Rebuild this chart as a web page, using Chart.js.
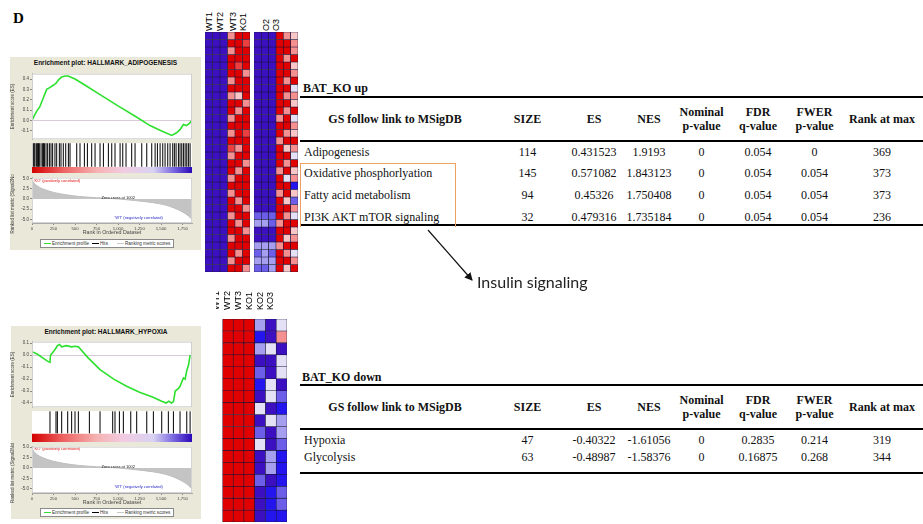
<!DOCTYPE html>
<html>
<head>
<meta charset="utf-8">
<title>GSEA BAT_KO</title>
<script src="https://cdn.jsdelivr.net/npm/chart.js@4.4.1/dist/chart.umd.min.js"></script>
<style>
  body { margin:0; width:923px; height:524px; background:#fff; position:relative; overflow:hidden; font-family:"Liberation Sans", Arial, sans-serif; }
  canvas { position:absolute; }
  .panel { position:absolute; background:#eae8d8; }
  .ptitle { position:absolute; text-align:center; font-weight:bold; font-size:6.5px; line-height:8px; color:#111; }
  .glegend { position:absolute; width:132px; height:7px; border:1px solid #8a8a8a; background:#fff; font-size:4.6px; line-height:7px; color:#333; white-space:nowrap; }
  .glegend i { display:inline-block; width:7px; height:0; vertical-align:middle; margin:0 1px 0 3px; }
  .fig-label { position:absolute; left:13px; top:10px; font:bold 15px "Liberation Serif", serif; }
  .hlabel { position:absolute; top:14px; height:17px; writing-mode:vertical-rl; transform:rotate(180deg); font-size:9px; line-height:10px; color:#000; }
  .ttitle { position:absolute; font:bold 12px "Liberation Serif", serif; color:#111; }
  table.gs { position:absolute; left:300px; width:623px; border-collapse:collapse; table-layout:fixed; font-family:"Liberation Serif","Times New Roman",serif; font-size:12px; color:#111; }
  table.gs th { font-weight:bold; line-height:14px; padding:0; vertical-align:middle; border-top:2px solid #000; border-bottom:2px solid #000; }
  table.gs td { text-align:center; vertical-align:top; padding:3px 0 0; line-height:14px; }
  table.gs td:first-child { text-align:left; padding-left:4px; }
  table.gs tr:last-child td { border-bottom:2px solid #000; }
  .insulin { position:absolute; left:477px; top:272px; font:16px Lato, "Open Sans", sans-serif; color:#222; }
</style>
</head>
<body>
<div class="fig-label">D</div>

<!-- GSEA panel: adipogenesis -->
<div class="panel" style="left:10px;top:57px;width:191px;height:193px"></div>
<div class="ptitle" style="left:10px;top:59px;width:191px">Enrichment plot: HALLMARK_ADIPOGENESIS</div>
<canvas id="esTop" width="186" height="73" style="left:10px;top:70px"></canvas>
<canvas id="hitsTop" width="186" height="30" style="left:10px;top:143px"></canvas>
<canvas id="metricTop" width="186" height="62" style="left:10px;top:174px"></canvas>
<div class="glegend" style="left:40px;top:239px"><i style="border-top:1px solid #33dd33"></i>Enrichment profile<i style="border-top:1px solid #000"></i>Hits<i style="border-top:1px solid #c8c8c8;margin-left:9px"></i>Ranking metric scores</div>

<!-- GSEA panel: hypoxia -->
<div class="panel" style="left:11px;top:326px;width:190px;height:193px"></div>
<div class="ptitle" style="left:11px;top:328px;width:190px">Enrichment plot: HALLMARK_HYPOXIA</div>
<canvas id="esBot" width="186" height="73" style="left:10px;top:338px"></canvas>
<canvas id="hitsBot" width="186" height="31" style="left:10px;top:411px"></canvas>
<canvas id="metricBot" width="186" height="63" style="left:10px;top:443px"></canvas>
<div class="glegend" style="left:40px;top:508px"><i style="border-top:1px solid #33dd33"></i>Enrichment profile<i style="border-top:1px solid #000"></i>Hits<i style="border-top:1px solid #c8c8c8;margin-left:9px"></i>Ranking metric scores</div>

<!-- heatmaps -->
<div id="topHeatLabels"></div>
<canvas id="heatA" width="45" height="240" style="left:205px;top:32px"></canvas>
<canvas id="heatB" width="44" height="240" style="left:254px;top:32px"></canvas>
<canvas id="heatBot" width="71" height="236" style="left:216px;top:286px"></canvas>

<!-- tables -->
<div class="ttitle" style="left:303px;top:81px">BAT_KO up</div>
<table class="gs" id="tblUp" style="top:96px"></table>
<div class="ttitle" style="left:302px;top:370px">BAT_KO down</div>
<table class="gs" id="tblDown" style="top:384px"></table>

<div style="position:absolute;left:300px;top:163px;width:154px;height:63px;border:1px solid #eea060;border-bottom:none"></div>
<svg width="923" height="524" style="position:absolute;left:0;top:0">
  <defs><marker id="ah" markerWidth="8" markerHeight="8" refX="7" refY="4" orient="auto" markerUnits="userSpaceOnUse">
    <path d="M0,0 L8,4 L0,8 z" fill="#111"/></marker></defs>
  <line x1="428" y1="230" x2="472" y2="280" stroke="#111" stroke-width="1.2" marker-end="url(#ah)"/>
</svg>
<div class="insulin">Insulin signaling</div>

<script>
// ---- ranked list (shared by both panels) ----
const rankMax = 1860;
const metricRanks = [0, 20, 60, 120, 250, 400, 550, 750, 1002, 1200, 1400, 1550, 1650, 1750, 1820, 1857];
const metricValues = [4.8, 4.0, 3.2, 2.5, 1.6, 1.0, 0.6, 0.3, 0, -0.4, -0.9, -1.5, -2.2, -3.2, -4.2, -5.0];

// colour bar under the hits
const barStops = [0, 364, 752, 1063, 1411, 1644, 1860];
const barColors = ['#d40000', '#ee6262', '#f6b2b2', '#f2cce2', '#d8d2f2', '#7a68e0', '#2a08b8'];

// HALLMARK_ADIPOGENESIS
const adipoRanks = [0, 30, 55, 90, 132, 171, 210, 248, 280, 306, 345, 384, 420, 500, 600, 791, 1000, 1200, 1372, 1500, 1625, 1680, 1720, 1760, 1795, 1830, 1857];
const adipoES = [0, 0.05, 0.09, 0.13, 0.22, 0.30, 0.32, 0.34, 0.36, 0.39, 0.42, 0.43, 0.43, 0.40, 0.35, 0.25, 0.14, 0.04, -0.05, -0.10, -0.145, -0.12, -0.09, -0.04, -0.05, -0.03, 0.0];
const adipoHits = [15, 25, 35, 54, 66, 75, 85, 105, 124, 135, 144, 163, 182, 202, 221, 240, 267, 287, 318, 337, 364, 392, 423, 442,
  520, 558, 609, 644, 694, 733, 791, 830, 888, 927, 965, 1024, 1055, 1093, 1159, 1198, 1276, 1334, 1392, 1431, 1458,
  1489, 1520, 1547, 1578, 1605, 1636, 1655, 1675, 1702, 1721, 1741, 1760, 1780, 1799, 1818, 1838];

// HALLMARK_HYPOXIA
const hypoxRanks = [0, 60, 120, 180, 209, 215, 250, 279, 295, 320, 345, 400, 461, 500, 539, 650, 791, 950, 1100, 1250, 1400, 1508, 1560, 1590, 1620, 1644, 1665, 1700, 1721, 1760, 1780, 1799, 1820, 1838];
const hypoxES = [0.03, 0.01, -0.02, -0.05, -0.06, 0.0, 0.03, 0.06, 0.08, 0.09, 0.07, 0.08, 0.07, 0.075, 0.07, -0.02, -0.12, -0.20, -0.26, -0.31, -0.35, -0.385, -0.40, -0.385, -0.40, -0.39, -0.30, -0.28, -0.26, -0.19, -0.20, -0.13, -0.08, 0.0];
const hypoxHits = [209, 279, 295, 345, 415, 461, 500, 539, 667, 791, 938, 965, 1016, 1062, 1148, 1217, 1334, 1411, 1508, 1585, 1644, 1721, 1799, 1838];

// heatmaps: colour level per cell (0 dark blue ... 8 red)
const heatPalette = ['#3c0fc0', '#2414ee', '#6c5ee8', '#a69ff0', '#e4e0f6', '#f8c6c6', '#f49090', '#ec4040', '#e00000'];
const topHeatLabels = ['WT1', 'WT2', 'WT3', 'KO1', 'O2', 'O3'];
const topHeatA = [
  [0,0,0,6,8,8],[0,0,0,8,8,7],[0,0,0,6,8,8],[0,0,0,8,8,8],[0,0,0,8,7,8],[0,0,0,8,8,6],[0,0,0,6,8,8],[0,0,0,8,8,8],
  [0,0,0,6,5,8],[0,0,0,8,8,6],[0,0,0,8,6,8],[0,0,0,6,8,8],[0,0,0,8,8,8],[0,0,0,6,8,7],[0,0,0,8,8,8],[0,0,0,7,6,8],
  [0,0,0,6,8,8],[0,0,0,8,8,6],[0,0,0,8,6,8],[0,0,0,6,8,8],[0,0,0,8,8,8],[0,0,0,6,8,8],[0,0,0,8,6,8],[0,0,0,8,8,6],
  [0,0,0,6,8,8],[0,0,0,8,6,8],[0,0,0,8,8,6],[0,0,0,6,8,8],[0,0,0,8,8,8],[0,0,0,8,6,8],[0,0,0,6,8,8],[0,0,0,8,8,6]
];
const topHeatB = [
  [0,0,0,8,6,5],[0,0,0,8,8,6],[0,0,0,8,8,6],[0,0,0,8,6,8],[0,0,0,8,8,5],[0,0,0,8,8,6],[0,0,0,8,6,8],[0,0,0,8,8,4],
  [0,0,0,8,6,6],[0,0,0,8,8,5],[0,0,0,8,6,8],[0,0,0,6,8,4],[0,0,0,8,8,6],[0,0,0,8,6,5],[0,0,0,6,8,8],[0,0,0,8,5,6],
  [0,0,0,8,8,4],[0,0,0,8,6,8],[0,0,0,6,8,5],[0,0,0,8,4,6],[0,0,0,8,8,1],[0,0,0,6,8,5],[0,0,0,8,5,2],[0,0,0,8,8,6],
  [2,2,2,8,6,4],[3,3,2,6,8,8],[0,0,0,8,8,5],[0,0,0,8,5,6],[3,3,3,6,8,8],[2,3,2,8,6,4],[3,3,3,8,8,6],[2,2,3,8,5,8]
];
const botHeatLabels = ['WT1', 'WT2', 'WT3', 'KO1', 'KO2', 'KO3'];
const botHeat = [
  [8,8,8,3,0,4],[8,8,8,1,0,6],[8,8,8,3,4,0],[8,8,8,0,0,4],[8,8,8,2,0,4],[8,8,8,1,4,0],[8,8,8,0,4,2],[8,8,8,4,0,1],
  [8,8,8,0,4,3],[8,8,8,2,0,3],[8,8,8,4,0,2],[8,8,8,0,3,1],[8,8,8,0,3,1],[8,8,8,2,0,1],[8,8,8,0,1,2],[8,8,8,0,1,2],[8,8,8,0,1,1]
];

// tables
const tableHeaders = [['GS follow link to MSigDB'], ['SIZE'], ['ES'], ['NES'], ['Nominal', 'p-value'], ['FDR', 'q-value'], ['FWER', 'p-value'], ['Rank at max']];
const upNames = ['Adipogenesis', 'Oxidative phosphorlyation', 'Fatty acid metabolism', 'PI3K AKT mTOR signaling'];
const upSize = [114, 145, 94, 32];
const upES = ['0.431523', '0.571082', '0.45326', '0.479316'];
const upNES = ['1.9193', '1.843123', '1.750408', '1.735184'];
const upNomP = ['0', '0', '0', '0'];
const upFDR = ['0.054', '0.054', '0.054', '0.054'];
const upFWER = ['0', '0.054', '0.054', '0.054'];
const upRank = [369, 373, 373, 236];
const downNames = ['Hypoxia', 'Glycolysis'];
const downSize = [47, 63];
const downES = ['-0.40322', '-0.48987'];
const downNES = ['-1.61056', '-1.58376'];
const downNomP = ['0', '0'];
const downFDR = ['0.2835', '0.16875'];
const downFWER = ['0.214', '0.268'];
const downRank = [319, 344];

Chart.defaults.font.family = '"Liberation Sans", Arial, sans-serif';
Chart.defaults.animation = false;
Chart.defaults.responsive = false;
Chart.defaults.events = [];
Chart.defaults.plugins.legend.display = false;
Chart.defaults.plugins.tooltip.enabled = false;

// white plot background + thin frame
Chart.register({
  id: 'plotBg',
  beforeDraw(chart, args, opts) {
    if (!opts.on) return;
    const a = chart.chartArea, c = chart.ctx;
    c.save(); c.fillStyle = '#fff'; c.fillRect(a.left, a.top, a.width, a.height); c.restore();
  },
  afterDraw(chart, args, opts) {
    if (!opts.frame) return;
    const a = chart.chartArea, c = chart.ctx;
    c.save(); c.strokeStyle = opts.frame; c.lineWidth = 1;
    c.strokeRect(a.left + 0.5, a.top + 0.5, a.width - 1, a.height - 1); c.restore();
  }
});
// small text notes placed in data coordinates
Chart.register({
  id: 'notes',
  afterDatasetsDraw(chart, args, opts) {
    if (!opts.items) return;
    const c = chart.ctx, xs = chart.scales.x, ys = chart.scales.y;
    c.save();
    opts.items.forEach(it => {
      c.font = '4px "Liberation Sans", Arial';
      c.fillStyle = it.color;
      c.textAlign = it.align || 'center';
      c.textBaseline = 'middle';
      c.fillText(it.text, xs.getPixelForValue(it.x), ys.getPixelForValue(it.y));
    });
    c.restore();
  }
});

const fmt1 = v => Number(v).toFixed(1);

function esChart(id, ranks, vals, yMin, yMax) {
  new Chart(document.getElementById(id), {
    type: 'line',
    data: { datasets: [{ data: ranks.map((r, i) => ({ x: r, y: vals[i] })), borderColor: '#2ee02e', borderWidth: 1.6, pointRadius: 0, tension: 0 }] },
    options: {
      layout: { padding: { left: 0, right: 4, top: 0, bottom: 0 }, autoPadding: false },
      plugins: { plotBg: { on: true, frame: '#cfcfcf' } },
      scales: {
        x: { type: 'linear', min: 0, max: rankMax, display: false },
        y: {
          min: yMin, max: yMax, afterFit: s => { s.width = 22; },
          ticks: { stepSize: 0.1, includeBounds: false, font: { size: 4.5 }, color: '#444', padding: 1, callback: fmt1 },
          grid: { color: c => (c.tick && Math.abs(c.tick.value) < 1e-9 ? '#d9c9d9' : 'transparent'), tickColor: '#888', tickLength: 2 },
          border: { color: '#aaa' },
          title: { display: true, text: 'Enrichment score (ES)', font: { size: 4.5 }, color: '#444', padding: 0 }
        }
      }
    }
  });
}

function colorBarFill(ctx) {
  const chart = ctx.chart;
  if (!chart.chartArea) return '#fff';
  const xs = chart.scales.x;
  const g = chart.ctx.createLinearGradient(xs.getPixelForValue(0), 0, xs.getPixelForValue(rankMax), 0);
  barStops.forEach((r, i) => g.addColorStop(r / rankMax, barColors[i]));
  return g;
}

function hitsChart(id, hits, barTop, hitRadius) {
  new Chart(document.getElementById(id), {
    type: 'scatter',
    data: {
      datasets: [
        { data: hits.map(r => ({ x: r, y: (1 + barTop) / 2 })), pointStyle: 'line', pointRotation: 90, pointRadius: hitRadius, pointBorderColor: '#000', pointBorderWidth: 1, clip: false },
        { type: 'line', data: [{ x: 0, y: barTop }, { x: rankMax, y: barTop }], fill: 'origin', borderWidth: 0, pointRadius: 0, backgroundColor: colorBarFill }
      ]
    },
    options: {
      layout: { padding: { left: 22, right: 4, top: 0, bottom: 0 }, autoPadding: false },
      plugins: { plotBg: { on: true } },
      scales: {
        x: { type: 'linear', min: 0, max: rankMax, display: false },
        y: { min: 0, max: 1, display: false }
      }
    }
  });
}

function metricChart(id, yMin, yMax) {
  new Chart(document.getElementById(id), {
    type: 'line',
    data: { datasets: [{ data: metricRanks.map((r, i) => ({ x: r, y: metricValues[i] })), fill: 'origin', backgroundColor: '#c4c4c4', borderColor: '#bdbdbd', borderWidth: 1, pointRadius: 0, cubicInterpolationMode: 'monotone' }] },
    options: {
      layout: { padding: { left: 0, right: 4, top: 0, bottom: 0 } },
      plugins: {
        plotBg: { on: true, frame: '#d4d4d4' },
        notes: { items: [
          { x: 20, y: 4.5, text: "'KO' (positively correlated)", color: '#e01010', align: 'left' },
          { x: 1002, y: 0.35, text: 'Zero cross at 1002', color: '#111' },
          { x: 1240, y: -4.6, text: "'WT' (negatively correlated)", color: '#2828c8' }
        ] }
      },
      scales: {
        x: {
          type: 'linear', min: 0, max: rankMax, afterFit: s => { s.height = 13; },
          ticks: { stepSize: 250, includeBounds: false, autoSkip: false, maxRotation: 0, font: { size: 4.3 }, color: '#444', padding: 1, callback: v => Number(v).toLocaleString('en-US') },
          grid: { drawOnChartArea: false, tickColor: '#888', tickLength: 2 },
          border: { color: '#aaa' },
          title: { display: true, text: 'Rank in Ordered Dataset', font: { size: 5.3 }, color: '#444', padding: 0 }
        },
        y: {
          min: yMin, max: yMax, afterFit: s => { s.width = 22; },
          ticks: { stepSize: 2.5, includeBounds: false, font: { size: 4.5 }, color: '#444', padding: 1, callback: fmt1 },
          grid: { drawOnChartArea: false, tickColor: '#888', tickLength: 2 },
          border: { color: '#aaa' },
          title: { display: true, text: 'Ranked list metric (Signal2Noise)', font: { size: 4.5 }, color: '#444', padding: 0 }
        }
      }
    }
  });
}

function heatChart(id, matrix, labels, axisHeight) {
  const datasets = matrix.map(row => ({
    data: row.map(() => 1),
    backgroundColor: row.map(v => heatPalette[v]),
    borderColor: '#161638', borderWidth: 0.6, borderSkipped: false,
    barPercentage: 1, categoryPercentage: 1
  }));
  new Chart(document.getElementById(id), {
    type: 'bar',
    data: { labels: labels, datasets: datasets },
    options: {
      layout: { padding: 0, autoPadding: false },
      scales: {
        x: {
          stacked: true, position: 'top', display: axisHeight > 0,
          afterFit: s => { s.height = axisHeight; },
          grid: { display: false }, border: { display: false },
          ticks: { minRotation: 90, maxRotation: 90, autoSkip: false, font: { size: 9 }, color: '#000', padding: 1 }
        },
        y: { stacked: true, reverse: true, min: 0, max: matrix.length, display: false }
      }
    }
  });
}

esChart('esTop', adipoRanks, adipoES, -0.183, 0.452);
hitsChart('hitsTop', adipoHits, 0.2, 11.8);
metricChart('metricTop', -5.9, 5.2);
esChart('esBot', hypoxRanks, hypoxES, -0.436, 0.113);
hitsChart('hitsBot', hypoxHits, 0.27, 11);
metricChart('metricBot', -6.0, 5.1);

heatChart('heatA', topHeatA, botHeatLabels, 0);
heatChart('heatB', topHeatB, botHeatLabels, 0);
heatChart('heatBot', botHeat, botHeatLabels, 33);

// rotated column labels over the upper heatmap (as in the source image)
const topLabelX = [204, 215, 228, 238, 261, 271];
document.getElementById('topHeatLabels').innerHTML = topHeatLabels
  .map((t, i) => `<div class="hlabel" style="left:${topLabelX[i]}px">${t}</div>`).join('');

function buildTable(id, names, cols, rowH, lastPad) {
  const widths = [190, 75, 58, 52, 53, 60, 53, 82];
  let html = '<colgroup>' + widths.map(w => `<col style="width:${w}px">`).join('') + '</colgroup>';
  html += '<thead><tr style="height:44px">' + tableHeaders.map(h => `<th>${h.join('<br>')}</th>`).join('') + '</tr></thead><tbody>';
  names.forEach((n, i) => {
    const h = i === names.length - 1 ? rowH + lastPad : rowH;
    html += `<tr style="height:${h}px"><td>${n}</td>` + cols.map(c => `<td>${c[i]}</td>`).join('') + '</tr>';
  });
  document.getElementById(id).innerHTML = html + '</tbody>';
}
buildTable('tblUp', upNames, [upSize, upES, upNES, upNomP, upFDR, upFWER, upRank], 22, -4);
buildTable('tblDown', downNames, [downSize, downES, downNES, downNomP, downFDR, downFWER, downRank], 17.5, 8);
</script>
</body>
</html>
